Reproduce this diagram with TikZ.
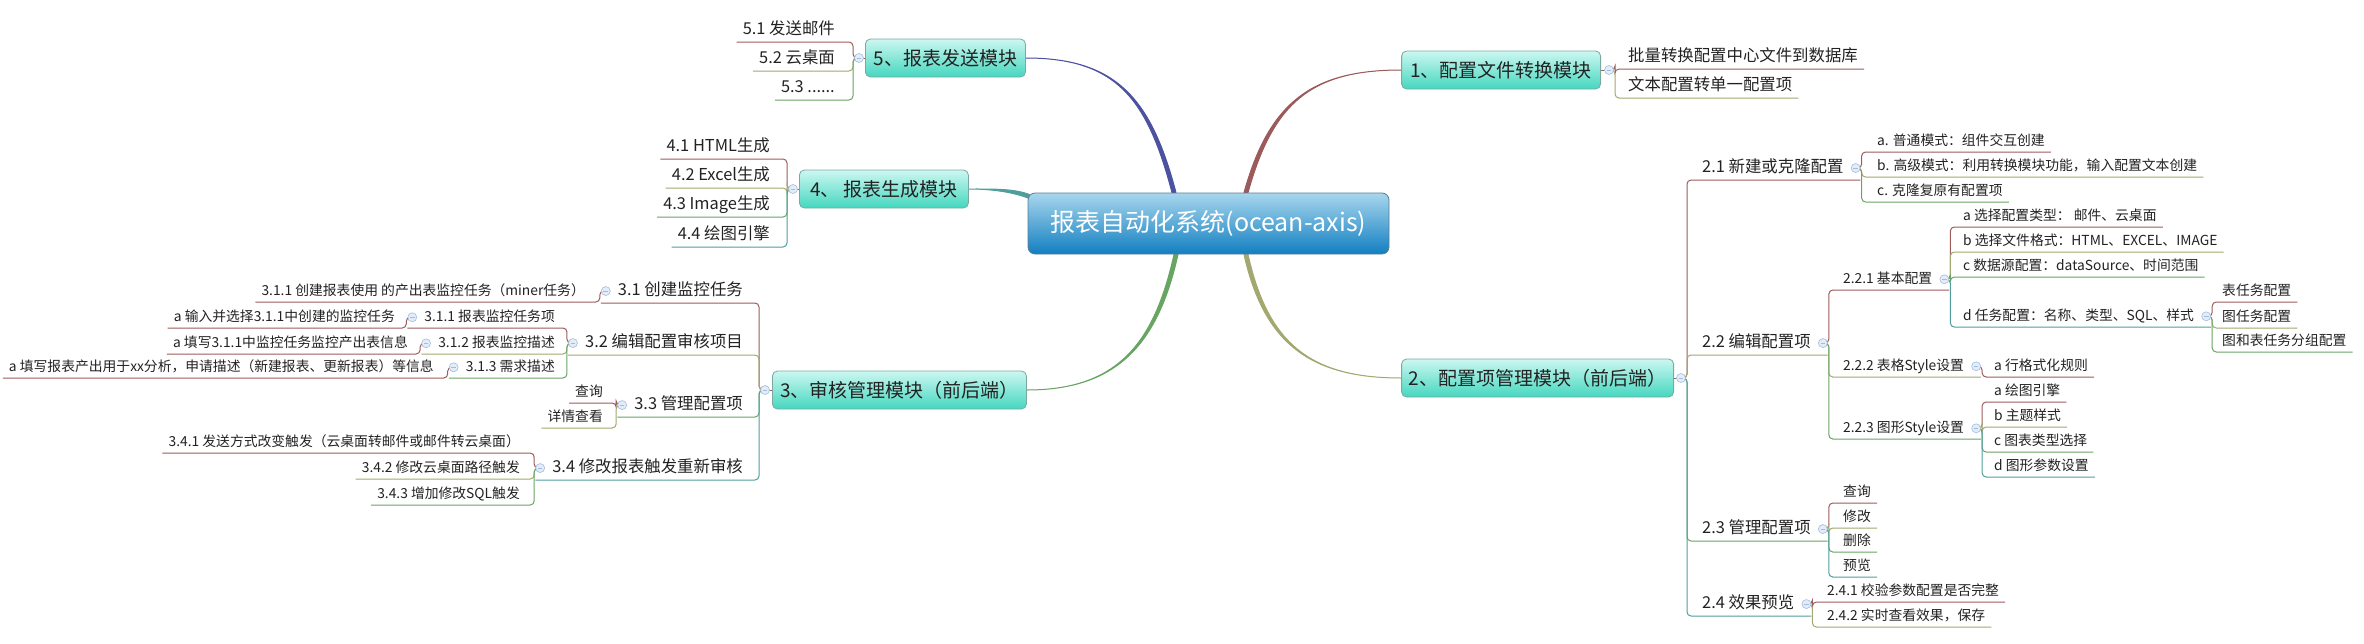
\documentclass[tikz,border=0pt]{standalone}
\usepackage{fontspec}
\newfontfamily\cjk{Noto Sans CJK SC}
\usepackage{xcolor}
\usepackage{tikz}
\usetikzlibrary{backgrounds}

\definecolor{cA}{HTML}{9C5B5B}
\definecolor{cB}{HTML}{A2A86F}
\definecolor{cC}{HTML}{68A563}
\definecolor{cD}{HTML}{4F9E9C}
\definecolor{cE}{HTML}{4C52A0}
\definecolor{maintop}{HTML}{CCF7F1}
\definecolor{mainbot}{HTML}{45D7BF}
\definecolor{mainline}{HTML}{79A9A1}
\definecolor{roottop}{HTML}{A8D6EE}
\definecolor{rootbot}{HTML}{127FC0}
\definecolor{rootline}{HTML}{5B7C92}
\definecolor{togfill}{HTML}{E3EDF9}
\definecolor{togline}{HTML}{A4BCDC}
\definecolor{ink}{HTML}{222222}

\tikzset{
  root/.style={draw=rootline, line width=0.8pt, rounded corners=7pt, top color=roottop, bottom color=rootbot,
    text=white, font=\cjk\fontsize{25}{30}\selectfont, minimum width=361pt, minimum height=61pt},
  main/.style={draw=mainline, line width=0.8pt, rounded corners=5pt, top color=maintop, bottom color=mainbot,
    text=ink, font=\cjk\fontsize{19}{23}\selectfont, minimum height=38pt, inner xsep=3pt},
  sub/.style={text=ink, font=\cjk\fontsize{16.4}{20}\selectfont, inner xsep=0pt, inner ysep=3.5pt,
    text height=13pt, text depth=3.5pt},
  leaf/.style={text=ink, font=\cjk\fontsize{13.8}{17}\selectfont, inner xsep=0pt, inner ysep=3.5pt,
    text height=11pt, text depth=3pt},
  tog/.style={circle, draw=togline, fill=togfill, line width=0.6pt, minimum size=9pt, inner sep=0pt,
    path picture={\draw[togline, line width=0.9pt] ([xshift=-2.3pt]path picture bounding box.center)
      -- ([xshift=2.3pt]path picture bounding box.center);}},
  link/.style={line width=1pt, rounded corners=4pt}
}

\newcommand\trunk[6]{\filldraw[#1, line width=1pt, line join=round] (#2) .. controls +(#4) and +(#5) .. (#6)
  .. controls +(#5) and +(#4) .. (#3) -- cycle;}
\newcommand\linkR[3]{\draw[link,#1] (#2.center) -- ++(6,0) |- (#3);}
\newcommand\linkL[3]{\draw[link,#1] (#2.center) -- ++(-6,0) |- (#3);}

\begin{document}
\begin{tikzpicture}[x=1pt, y=-1pt]
\useasboundingbox (0,0) rectangle (2364,643);

\node[root] (r) at (1208.5,223.5) {报表自动化系统(ocean-axis)};
\node[main, anchor=east, minimum width=199pt] (m1) at (1601,70) {1、配置文件转换模块};
\node[main, anchor=east, minimum width=272pt] (m2) at (1674,378) {2、配置项管理模块（前后端）};
\node[main, anchor=west, minimum width=254pt] (m3) at (772,390) {3、审核管理模块（前后端）};
\node[main, anchor=west, minimum width=169pt] (m4) at (799,189) {4、 报表生成模块};
\node[main, anchor=west, minimum width=160pt] (m5) at (865,58) {5、报表发送模块};

\node[tog] (t1) at ([xshift=8pt]m1.east) {};
\node[tog] (t2) at ([xshift=7pt]m2.east) {};
\node[tog] (t3) at ([xshift=-7pt]m3.west) {};
\node[tog] (t4) at ([xshift=-6pt]m4.west) {};
\node[tog] (t5) at ([xshift=-6pt]m5.west) {};

% 1
\node[sub, anchor=south west] (k11) at (1628,69) {批量转换配置中心文件到数据库};
\node[sub, anchor=south west] (k12) at (1628,98) {文本配置转单一配置项};

% 2
\node[sub, anchor=south west] (k21) at (1702,180) {2.1 新建或克隆配置};
\node[sub, anchor=south west] (k22) at (1702,355) {2.2 编辑配置项};
\node[sub, anchor=south west] (k23) at (1702,541) {2.3 管理配置项};
\node[sub, anchor=south west] (k24) at (1702,616) {2.4 效果预览};
\node[tog] (t21) at ([xshift=12pt]k21.east) {};
\node[tog] (t22) at ([xshift=12pt]k22.east) {};
\node[tog] (t23) at ([xshift=12pt]k23.east) {};
\node[tog] (t24) at ([xshift=12pt]k24.east) {};

\node[leaf, anchor=south west] (k211) at (1877,152) {a. 普通模式：组件交互创建};
\node[leaf, anchor=south west] (k212) at (1877,177) {b. 高级模式：利用转换模块功能，输入配置文本创建};
\node[leaf, anchor=south west] (k213) at (1877,202) {c. 克隆复原有配置项};

\node[leaf, anchor=south west] (k221) at (1843,290) {2.2.1 基本配置};
\node[leaf, anchor=south west] (k222) at (1843,377) {2.2.2 表格Style设置};
\node[leaf, anchor=south west] (k223) at (1843,439) {2.2.3 图形Style设置};
\node[tog] (t221) at ([xshift=12pt]k221.east) {};
\node[tog] (t222) at ([xshift=12pt]k222.east) {};
\node[tog] (t223) at ([xshift=12pt]k223.east) {};

\node[leaf, anchor=south west] (k2211) at (1963,227) {a 选择配置类型：~邮件、云桌面};
\node[leaf, anchor=south west] (k2212) at (1963,252) {b 选择文件格式：HTML、EXCEL、IMAGE};
\node[leaf, anchor=south west] (k2213) at (1963,277) {c 数据源配置：dataSource、时间范围};
\node[leaf, anchor=south west] (k2214) at (1963,327) {d 任务配置：名称、类型、SQL、样式};
\node[tog] (t2214) at ([xshift=12pt]k2214.east) {};
\node[leaf, anchor=south west] (k22141) at (2222,302) {表任务配置};
\node[leaf, anchor=south west] (k22142) at (2222,328) {图任务配置};
\node[leaf, anchor=south west] (k22143) at (2222,352) {图和表任务分组配置};

\node[leaf, anchor=south west] (k2221) at (1994,377) {a 行格式化规则};
\node[leaf, anchor=south west] (k2231) at (1994,402) {a 绘图引擎};
\node[leaf, anchor=south west] (k2232) at (1994,427) {b 主题样式};
\node[leaf, anchor=south west] (k2233) at (1994,452) {c 图表类型选择};
\node[leaf, anchor=south west] (k2234) at (1994,477) {d 图形参数设置};

\node[leaf, anchor=south west] (k231) at (1843,503) {查询};
\node[leaf, anchor=south west] (k232) at (1843,528) {修改};
\node[leaf, anchor=south west] (k233) at (1843,552) {删除};
\node[leaf, anchor=south west] (k234) at (1843,577) {预览};

\node[leaf, anchor=south west] (k241) at (1827,602) {2.4.1 校验参数配置是否完整};
\node[leaf, anchor=south west] (k242) at (1827,627) {2.4.2 实时查看效果，保存};

% 5
\node[sub, anchor=south east] (k51) at (835,42) {5.1 发送邮件};
\node[sub, anchor=south east] (k52) at (835,71) {5.2 云桌面};
\node[sub, anchor=south east] (k53) at (835,100) {5.3 ......};

% 4
\node[sub, anchor=south east] (k41) at (770,159) {4.1 HTML生成};
\node[sub, anchor=south east] (k42) at (770,188) {4.2 Excel生成};
\node[sub, anchor=south east] (k43) at (770,217) {4.3 Image生成};
\node[sub, anchor=south east] (k44) at (770,247) {4.4 绘图引擎};

% 3
\node[sub, anchor=south east] (k31) at (743,303) {3.1 创建监控任务};
\node[sub, anchor=south east] (k32) at (743,355) {3.2 编辑配置审核项目};
\node[sub, anchor=south east] (k33) at (743,417) {3.3 管理配置项};
\node[sub, anchor=south east] (k34) at (743,480) {3.4 修改报表触发重新审核};
\node[tog] (t31) at ([xshift=-12pt]k31.west) {};
\node[tog] (t32) at ([xshift=-12pt]k32.west) {};
\node[tog] (t33) at ([xshift=-12pt]k33.west) {};
\node[tog] (t34) at ([xshift=-12pt]k34.west) {};

\node[leaf, anchor=south east] (k311) at (585,302) {3.1.1 创建报表使用 的产出表监控任务（miner任务）};

\node[leaf, anchor=south east] (k321) at (555,328) {3.1.1 报表监控任务项};
\node[leaf, anchor=south east] (k322) at (555,354) {3.1.2 报表监控描述};
\node[leaf, anchor=south east] (k323) at (555,378) {3.1.3 需求描述};
\node[tog] (t321) at ([xshift=-12pt]k321.west) {};
\node[tog] (t322) at ([xshift=-12pt]k322.west) {};
\node[tog] (t323) at ([xshift=-12pt]k323.west) {};
\node[leaf, anchor=south east] (k3211) at (395,328) {a 输入并选择3.1.1中创建的监控任务};
\node[leaf, anchor=south east] (k3221) at (408,354) {a 填写3.1.1中监控任务监控产出表信息};
\node[leaf, anchor=south east] (k3231) at (434,378) {a 填写报表产出用于xx分析，申请描述（新建报表、更新报表）等信息};

\node[leaf, anchor=south east] (k331) at (603,403) {查询};
\node[leaf, anchor=south east] (k332) at (603,428) {详情查看};

\node[leaf, anchor=south east] (k341) at (520,453) {3.4.1 发送方式改变触发（云桌面转邮件或邮件转云桌面）};
\node[leaf, anchor=south east] (k342) at (520,479) {3.4.2 修改云桌面路径触发};
\node[leaf, anchor=south east] (k343) at (520,505) {3.4.3 增加修改SQL触发};

\begin{scope}[on background layer]
\trunk{cA}{[xshift=35.5pt]r.north}{[xshift=39.5pt]r.north}{25,-90}{-90,0}{m1.west}
\trunk{cB}{[xshift=35.5pt]r.south}{[xshift=39.5pt]r.south}{20,90}{-90,0}{m2.west}
\trunk{cC}{[xshift=-34.5pt]r.south}{[xshift=-30.5pt]r.south}{-20,90}{90,0}{m3.east}
\trunk{cD}{[shift={(2pt,-2pt)}]r.north west}{[shift={(2pt,-6pt)}]r.north west}{-15,-6}{25,0}{m4.east}
\trunk{cE}{[xshift=-36.5pt]r.north}{[xshift=-32.5pt]r.north}{-25,-95}{90,0}{m5.east}

\draw[link,cA] (m1.east) -- (t1.center);
\linkR{cA}{t1}{[xshift=6pt]k11.south east}
\linkR{cB}{t1}{[xshift=6pt]k12.south east}

\draw[link,cA] (m2.east) -- (t2.center);
\linkR{cA}{t2}{k21.south -| t21.east}
\linkR{cB}{t2}{k22.south -| t22.east}
\linkR{cC}{t2}{k23.south -| t23.east}
\linkR{cD}{t2}{k24.south -| t24.east}
\linkR{cA}{t21}{[xshift=6pt]k211.south east}
\linkR{cB}{t21}{[xshift=6pt]k212.south east}
\linkR{cC}{t21}{[xshift=6pt]k213.south east}
\linkR{cA}{t22}{k221.south -| t221.east}
\linkR{cB}{t22}{k222.south -| t222.east}
\linkR{cC}{t22}{k223.south -| t223.east}
\linkR{cA}{t221}{[xshift=6pt]k2211.south east}
\linkR{cB}{t221}{[xshift=6pt]k2212.south east}
\linkR{cC}{t221}{[xshift=6pt]k2213.south east}
\linkR{cD}{t221}{k2214.south -| t2214.east}
\linkR{cA}{t2214}{[xshift=6pt]k22141.south east}
\linkR{cB}{t2214}{[xshift=6pt]k22142.south east}
\linkR{cC}{t2214}{[xshift=6pt]k22143.south east}
\linkR{cA}{t222}{[xshift=6pt]k2221.south east}
\linkR{cA}{t223}{[xshift=6pt]k2231.south east}
\linkR{cB}{t223}{[xshift=6pt]k2232.south east}
\linkR{cC}{t223}{[xshift=6pt]k2233.south east}
\linkR{cD}{t223}{[xshift=6pt]k2234.south east}
\linkR{cA}{t23}{[xshift=6pt]k231.south east}
\linkR{cB}{t23}{[xshift=6pt]k232.south east}
\linkR{cC}{t23}{[xshift=6pt]k233.south east}
\linkR{cD}{t23}{[xshift=6pt]k234.south east}
\linkR{cA}{t24}{[xshift=6pt]k241.south east}
\linkR{cB}{t24}{[xshift=6pt]k242.south east}

\draw[link,cA] (m5.west) -- (t5.center);
\linkL{cA}{t5}{[xshift=-6pt]k51.south west}
\linkL{cB}{t5}{[xshift=-6pt]k52.south west}
\linkL{cC}{t5}{[xshift=-6pt]k53.south west}

\draw[link,cA] (m4.west) -- (t4.center);
\linkL{cA}{t4}{[xshift=-6pt]k41.south west}
\linkL{cB}{t4}{[xshift=-6pt]k42.south west}
\linkL{cC}{t4}{[xshift=-6pt]k43.south west}
\linkL{cD}{t4}{[xshift=-6pt]k44.south west}

\draw[link,cA] (m3.west) -- (t3.center);
\linkL{cA}{t3}{k31.south -| t31.west}
\linkL{cB}{t3}{k32.south -| t32.west}
\linkL{cC}{t3}{k33.south -| t33.west}
\linkL{cD}{t3}{k34.south -| t34.west}
\linkL{cA}{t31}{[xshift=-6pt]k311.south west}
\linkL{cA}{t32}{k321.south -| t321.west}
\linkL{cB}{t32}{k322.south -| t322.west}
\linkL{cC}{t32}{k323.south -| t323.west}
\linkL{cA}{t321}{[xshift=-6pt]k3211.south west}
\linkL{cA}{t322}{[xshift=-6pt]k3221.south west}
\linkL{cA}{t323}{[xshift=-6pt]k3231.south west}
\linkL{cA}{t33}{[xshift=-6pt]k331.south west}
\linkL{cB}{t33}{[xshift=-6pt]k332.south west}
\linkL{cA}{t34}{[xshift=-6pt]k341.south west}
\linkL{cB}{t34}{[xshift=-6pt]k342.south west}
\linkL{cC}{t34}{[xshift=-6pt]k343.south west}
\end{scope}
\end{tikzpicture}
\end{document}
